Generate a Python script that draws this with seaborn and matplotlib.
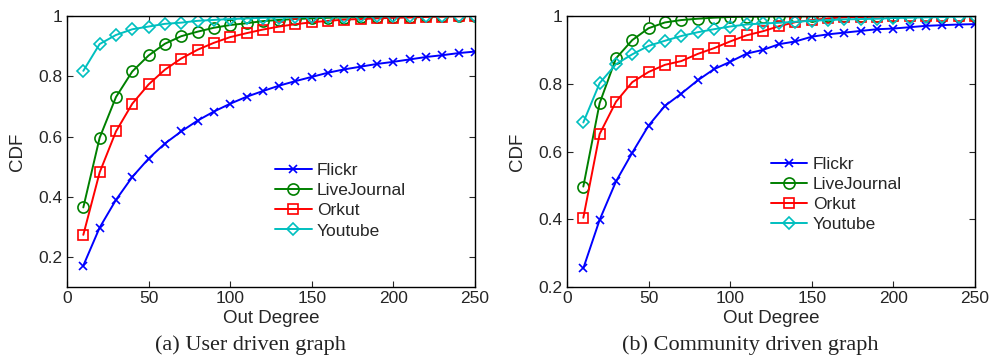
import numpy as np
import pandas as pd
import matplotlib
matplotlib.use("Agg")
import matplotlib.pyplot as plt
import seaborn as sns

degrees = list(range(10, 260, 10))

# (a) User driven graph
user_flickr = [0.172, 0.298, 0.390, 0.466, 0.527, 0.577, 0.617, 0.653, 0.683, 0.709,
               0.732, 0.751, 0.769, 0.784, 0.798, 0.812, 0.823, 0.832, 0.841, 0.848,
               0.856, 0.864, 0.870, 0.877, 0.882]
user_livejournal = [0.365, 0.596, 0.731, 0.816, 0.869, 0.908, 0.933, 0.948, 0.961, 0.970,
                    0.976, 0.983, 0.987, 0.990, 0.992, 0.994, 0.995, 0.996, 0.997, 0.998,
                    0.998, 0.999, 0.999, 1.000, 1.000]
user_orkut = [0.274, 0.481, 0.617, 0.709, 0.773, 0.822, 0.859, 0.888, 0.911, 0.930,
              0.943, 0.955, 0.965, 0.973, 0.979, 0.984, 0.988, 0.990, 0.992, 0.994,
              0.995, 0.997, 0.998, 0.999, 1.000]
user_youtube = [0.818, 0.907, 0.937, 0.956, 0.965, 0.974, 0.978, 0.984, 0.987, 0.990,
                0.992, 0.994, 0.995, 0.996, 0.997, 0.998, 0.998, 0.999, 0.999, 0.999,
                1.000, 1.000, 1.000, 1.000, 1.000]

# (b) Community driven graph
comm_flickr = [0.256, 0.399, 0.512, 0.597, 0.677, 0.735, 0.771, 0.810, 0.843, 0.865,
               0.889, 0.900, 0.917, 0.925, 0.939, 0.946, 0.951, 0.956, 0.961, 0.963,
               0.967, 0.971, 0.973, 0.975, 0.976]
comm_livejournal = [0.497, 0.743, 0.875, 0.929, 0.964, 0.981, 0.988, 0.992, 0.995, 0.997,
                    0.998, 0.998, 0.999, 0.999, 0.999, 1.000, 1.000, 1.000, 1.000, 1.000,
                    1.000, 1.000, 1.000, 1.000, 1.000]
comm_orkut = [0.405, 0.652, 0.747, 0.805, 0.835, 0.856, 0.867, 0.888, 0.905, 0.925,
              0.943, 0.955, 0.970, 0.982, 0.988, 0.993, 0.996, 0.997, 0.998, 0.999,
              0.999, 1.000, 1.000, 1.000, 1.000]
comm_youtube = [0.686, 0.802, 0.858, 0.887, 0.912, 0.927, 0.941, 0.952, 0.961, 0.969,
                0.975, 0.978, 0.980, 0.983, 0.986, 0.988, 0.990, 0.991, 0.992, 0.994,
                0.995, 0.996, 0.997, 0.998, 0.999]

series_names = ["Flickr", "LiveJournal", "Orkut", "Youtube"]
colors = ["#0000ff", "#008000", "#ff0000", "#00bfbf"]
markers = ["x", "o", "s", "D"]
msizes = [5.5, 8, 6.5, 6]

captions = ["(a) User driven graph", "(b) Community driven graph"]
xticks = [0, 50, 100, 150, 200, 250]
yticks = [0.2, 0.4, 0.6, 0.8, 1.0]
ytick_labels = ["0.2", "0.4", "0.6", "0.8", "1"]

sns.set_style("ticks")
plt.rcParams["font.family"] = ["Liberation Sans", "DejaVu Sans"]

fig = plt.figure(figsize=(9.92, 3.6), dpi=100)
ax1 = fig.add_axes([67/992, 1-287.3/360, 408/992, 271.3/360])
ax2 = fig.add_axes([567/992, 1-287.3/360, 408/992, 271.3/360])

panels = [
    (ax1, [user_flickr, user_livejournal, user_orkut, user_youtube], 0.1, (0.51, 0.457)),
    (ax2, [comm_flickr, comm_livejournal, comm_orkut, comm_youtube], 0.2, (0.50, 0.482)),
]

for ax, data, ymin, anchor in panels:
    for name, vals, c, m, ms in zip(series_names, data, colors, markers, msizes):
        df = pd.DataFrame({"deg": degrees, "cdf": vals})
        sns.lineplot(data=df, x="deg", y="cdf", ax=ax, color=c, marker=m,
                     markersize=ms, markerfacecolor="none", markeredgecolor=c,
                     markeredgewidth=1.2, linewidth=1.4, label=name)
    ax.set_xlim(0, 250)
    ax.set_ylim(ymin, 1)
    ax.set_xticks(xticks)
    ax.set_yticks(yticks)
    ax.set_yticklabels(ytick_labels)
    ax.tick_params(direction="in", top=True, right=True, labelsize=12.5,
                   length=4, width=0.8, pad=3)
    for sp in ax.spines.values():
        sp.set_linewidth(1.0)
        sp.set_color("black")
    ax.set_xlabel("Out Degree", fontsize=13.5, labelpad=2.5)
    ax.set_ylabel("CDF", fontsize=13.5, labelpad=9)
    ax.legend(loc="upper left", bbox_to_anchor=anchor, frameon=False,
              fontsize=12.5, handlelength=2.1, handletextpad=0.3,
              labelspacing=0.28, borderaxespad=0, borderpad=0)

fig.text(250/992, 1-345/360, captions[0], ha="center", va="center",
         fontsize=16, family="Liberation Serif", color="#222222")
fig.text(750/992, 1-345/360, captions[1], ha="center", va="center",
         fontsize=16, family="Liberation Serif", color="#222222")

fig.savefig("out.png", dpi=100)
